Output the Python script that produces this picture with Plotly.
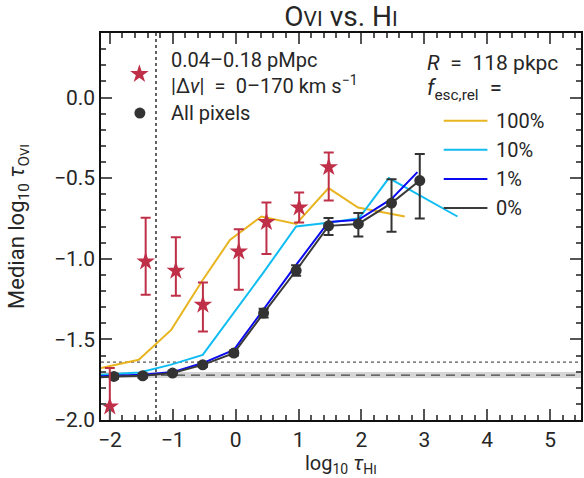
import plotly.graph_objects as go

# ---------------- data ----------------
# observed: 0.04-0.18 pMpc, |dv| = 0-170 km/s (stars)
star_x = [-2.00, -1.43, -0.95, -0.52, 0.05, 0.49, 1.01, 1.48]
star_y = [-1.916, -1.017, -1.075, -1.286, -0.955, -0.773, -0.682, -0.432]
star_hi = [-1.678, -0.745, -0.866, -1.147, -0.817, -0.651, -0.589, -0.341]
star_lo = [-2.30, -1.224, -1.230, -1.451, -1.193, -0.970, -0.775, -0.639]

# all pixels (circles)
all_x = [-1.935, -1.477, -1.003, -0.523, -0.028, 0.445, 0.962, 1.477, 1.951, 2.478, 2.927]
all_y = [-1.730, -1.726, -1.709, -1.658, -1.585, -1.337, -1.073, -0.796, -0.784, -0.655, -0.515]
all_hi = [-1.716, -1.712, -1.697, -1.645, -1.570, -1.310, -1.040, -0.748, -0.717, -0.507, -0.350]
all_lo = [-1.744, -1.740, -1.721, -1.671, -1.600, -1.365, -1.106, -0.852, -0.862, -0.833, -0.751]

# model curves, f_esc,rel
f100_x = [-2.14, -1.54, -1.024, -0.539, -0.09, 0.41, 0.962, 1.477, 1.946, 2.689]
f100_y = [-1.678, -1.627, -1.441, -1.141, -0.883, -0.738, -0.784, -0.562, -0.682, -0.738]

f10_x = [-2.14, -1.53, -1.04, -0.523, 0.435, 0.962, 1.47, 1.962, 2.436, 3.526]
f10_y = [-1.720, -1.705, -1.658, -1.596, -1.089, -0.800, -0.777, -0.748, -0.500, -0.738]

f1_x = [-2.14, -1.935, -1.477, -1.003, -0.523, -0.028, 0.445, 0.962, 1.477, 1.951, 2.478, 2.89]
f1_y = [-1.728, -1.725, -1.720, -1.703, -1.647, -1.565, -1.313, -1.038, -0.772, -0.759, -0.629, -0.463]

f0_x = [-2.14] + all_x
f0_y = [-1.735] + all_y

# reference levels
noise_lo, noise_hi, noise_med = -1.740, -1.703, -1.722
noise_dot = -1.641
tau_hi_limit = -1.266

legend_labels = ["100%", "10%", "1%", "0%"]

# ---------------- styles ----------------
FONT = "Roboto"
TXT = "#262626"
C_STAR = "#BF3048"
C_ALL = "#333333"
C100 = "#E8B420"
C10 = "#10BDF2"
C1 = "#0A0AF0"
C0 = "#3a3a3a"
EQ = "\u2002=\u2002"

fig = go.Figure()

def line(x, y, c):
    fig.add_trace(go.Scatter(x=x, y=y, mode="lines", line=dict(color=c, width=2),
                             showlegend=False, hoverinfo="skip"))

line(f100_x, f100_y, C100)
line(f10_x, f10_y, C10)
line(f1_x, f1_y, C1)
line(f0_x, f0_y, C0)

fig.add_trace(go.Scatter(
    x=all_x, y=all_y, mode="markers",
    marker=dict(symbol="circle", size=11, color=C_ALL),
    error_y=dict(type="data", symmetric=False,
                 array=[h - y for h, y in zip(all_hi, all_y)],
                 arrayminus=[y - l for l, y in zip(all_lo, all_y)],
                 color=C_ALL, thickness=2, width=5),
    showlegend=False))

fig.add_trace(go.Scatter(
    x=star_x, y=star_y, mode="markers",
    marker=dict(symbol="star", size=14, color=C_STAR),
    error_y=dict(type="data", symmetric=False,
                 array=[h - y for h, y in zip(star_hi, star_y)],
                 arrayminus=[y - l for l, y in zip(star_lo, star_y)],
                 color=C_STAR, thickness=2, width=5),
    showlegend=False))

# legend markers on an overlay axis (0-1 = plot area)
fig.add_trace(go.Scatter(x=[0.080], y=[0.894], mode="markers", xaxis="x2", yaxis="y2",
                         marker=dict(symbol="star", size=14, color=C_STAR), showlegend=False))
fig.add_trace(go.Scatter(x=[0.081], y=[0.793], mode="markers", xaxis="x2", yaxis="y2",
                         marker=dict(symbol="circle", size=11, color=C_ALL), showlegend=False))

shapes = [
    dict(type="rect", xref="paper", yref="y", x0=0, x1=1, y0=noise_lo, y1=noise_hi,
         fillcolor="#d6d6d6", line=dict(width=0), layer="below"),
    dict(type="line", xref="paper", yref="y", x0=0, x1=1, y0=noise_med, y1=noise_med,
         line=dict(color="#444444", width=1.3, dash="9px,6px"), layer="below"),
    dict(type="line", xref="paper", yref="y", x0=0, x1=1, y0=noise_dot, y1=noise_dot,
         line=dict(color="#555555", width=1.3, dash="dot"), layer="below"),
    dict(type="line", xref="x", yref="paper", x0=tau_hi_limit, x1=tau_hi_limit, y0=0, y1=1,
         line=dict(color="#111111", width=1.3, dash="dot"), layer="below"),
]
leg_y = [0.773, 0.698, 0.623, 0.548]
for c, yy in zip([C100, C10, C1, C0], leg_y):
    shapes.append(dict(type="line", xref="paper", yref="paper", x0=0.714, x1=0.805,
                       y0=yy, y1=yy, line=dict(color=c, width=2)))

ann = []
def text(x, y, s, size=20, **kw):
    d = dict(x=x, y=y, xref="paper", yref="paper", text=s, showarrow=False,
             xanchor="left", yanchor="middle", font=dict(family=FONT, size=size, color=TXT))
    d.update(kw)
    ann.append(d)

text(0.142, 0.930, "0.04–0.18 pMpc")
text(0.142, 0.866, "|Δ<i>v</i>|" + EQ + "0–170 km s<sup>−1</sup>")
text(0.142, 0.793, "All pixels")
text(0.674, 0.922, "<i>R</i>" + EQ + "118 pkpc", size=21)
text(0.676, 0.855, "<i>f</i><sub>esc,rel</sub>" + EQ, size=22)
for lab, yy in zip(legend_labels, leg_y):
    text(0.819, yy, lab)

# axis titles
text(0.5, -0.114, "log<sub>10</sub> <i>τ</i><sub>H<span style='font-size:13px'>I</span></sub>",
     size=20, xanchor="center")
text(-0.172, 0.5, "Median log<sub>10</sub> <i>τ</i><sub>O<span style='font-size:13px'>VI</span></sub>",
     size=22, xanchor="center", textangle=-90)

axis_common = dict(showline=True, linecolor="#111111", linewidth=1.5, mirror="allticks",
                   ticks="inside", tickcolor="#555555", tickwidth=1.5, ticklen=11,
                   showgrid=False, zeroline=False,
                   tickfont=dict(family=FONT, size=21, color=TXT))

fig.update_layout(
    width=584, height=478,
    margin=dict(l=101, r=1, t=33, b=58),
    paper_bgcolor="white", plot_bgcolor="white",
    showlegend=False,
    title=dict(text="O<span style='font-size:21px'>VI</span> vs. H<span style='font-size:21px'>I</span>",
               x=0.5, xref="paper", xanchor="center", y=0.966, yref="container", yanchor="middle",
               font=dict(family=FONT, size=28, color=TXT)),
    xaxis=dict(range=[-2.14, 5.49], tickmode="array", tickvals=[-2, -1, 0, 1, 2, 3, 4, 5],
               minor=dict(ticks="inside", dtick=0.2, tick0=0, ticklen=5, tickcolor="#555555", tickwidth=1.5),
               **axis_common),
    yaxis=dict(range=[-2.0, 0.4], tickmode="array", tickvals=[-2.0, -1.5, -1.0, -0.5, 0.0],
               tickformat=".1f",
               minor=dict(ticks="inside", dtick=0.1, tick0=0, ticklen=5, tickcolor="#555555", tickwidth=1.5),
               **axis_common),
    xaxis2=dict(overlaying="x", range=[0, 1], visible=False),
    yaxis2=dict(overlaying="y", range=[0, 1], visible=False),
    shapes=shapes,
    annotations=ann,
)

fig.write_html("out.html")
